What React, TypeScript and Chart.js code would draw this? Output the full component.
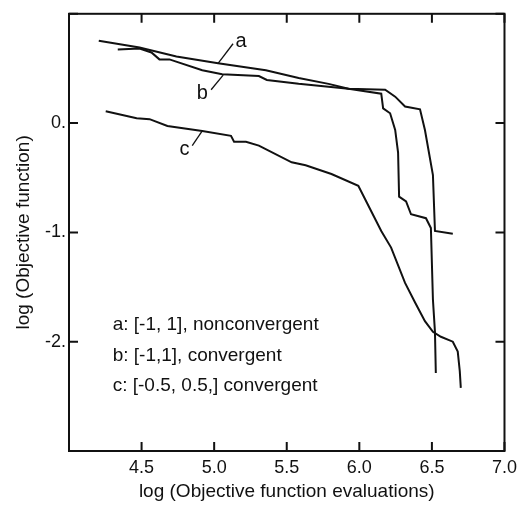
import React, { useEffect, useRef } from "react";
import { Chart, registerables } from "chart.js";

Chart.register(...registerables);

// Curve a: [-1, 1], nonconvergent
const aX = [4.205, 4.486, 4.740, 5.027, 5.356, 5.582, 5.788, 5.925, 6.178, 6.247, 6.315, 6.418, 6.452, 6.507, 6.521, 6.644];
const aY = [0.753, 0.691, 0.610, 0.547, 0.484, 0.413, 0.359, 0.314, 0.305, 0.242, 0.152, 0.126, -0.063, -0.475, -0.987, -1.013];

// Curve b: [-1,1], convergent
const bX = [4.336, 4.486, 4.568, 4.623, 4.692, 4.918, 5.055, 5.308, 5.363, 5.582, 5.788, 5.925, 6.151, 6.164, 6.212, 6.247, 6.267, 6.274, 6.322, 6.356, 6.459, 6.493, 6.507, 6.521, 6.527];
const bY = [0.673, 0.682, 0.646, 0.583, 0.583, 0.484, 0.448, 0.430, 0.395, 0.359, 0.332, 0.314, 0.269, 0.135, 0.090, -0.063, -0.269, -0.673, -0.717, -0.834, -0.870, -0.960, -1.614, -1.910, -2.287];

// Curve c: [-0.5, 0.5,] convergent
const cX = [4.253, 4.466, 4.555, 4.678, 4.918, 5.116, 5.137, 5.219, 5.308, 5.534, 5.630, 5.808, 5.993, 6.082, 6.151, 6.219, 6.315, 6.384, 6.452, 6.507, 6.562, 6.644, 6.678, 6.692, 6.699];
const cY = [0.108, 0.045, 0.036, -0.027, -0.072, -0.117, -0.170, -0.170, -0.206, -0.359, -0.386, -0.466, -0.574, -0.807, -0.987, -1.139, -1.462, -1.641, -1.812, -1.910, -1.955, -2.000, -2.090, -2.269, -2.422];

const legendLines = ["a: [-1, 1], nonconvergent", "b: [-1,1], convergent", "c: [-0.5, 0.5,] convergent"];
const curveLetters = ["a", "b", "c"];

const xTitle = "log (Objective function evaluations)";
const yTitle = "log (Objective function)";

const FONT = "'Liberation Sans', Arial, Helvetica, sans-serif";
const INK = "#111";

const toPts = (xs: number[], ys: number[]) => xs.map((x, i) => ({ x, y: ys[i] }));

const framePlugin = {
  id: "frameTicks",
  afterDraw(chart: any) {
    const { ctx, chartArea, scales } = chart;
    const { left, right, top, bottom } = chartArea;
    const xs = scales.x;
    const ys = scales.y;
    ctx.save();
    ctx.strokeStyle = INK;
    ctx.lineWidth = 2;
    ctx.strokeRect(left, top, right - left, bottom - top);
    const L = 9;
    ctx.beginPath();
    xs.ticks.forEach((t: any) => {
      const px = xs.getPixelForValue(t.value);
      ctx.moveTo(px, bottom);
      ctx.lineTo(px, bottom - L);
      ctx.moveTo(px, top);
      ctx.lineTo(px, top + L);
    });
    ys.ticks.forEach((t: any) => {
      const py = ys.getPixelForValue(t.value);
      ctx.moveTo(left, py);
      ctx.lineTo(left + L, py);
      ctx.moveTo(right, py);
      ctx.lineTo(right - L, py);
    });
    ctx.stroke();

    // leader lines for curve letters (data coordinates)
    const leaders = [
      { lx: 5.185, ly: 0.744, x1: 5.130, y1: 0.726, x2: 5.027, y2: 0.547 },
      { lx: 4.918, ly: 0.269, x1: 4.979, y1: 0.305, x2: 5.062, y2: 0.439 },
      { lx: 4.795, ly: -0.242, x1: 4.849, y1: -0.206, x2: 4.918, y2: -0.072 },
    ];
    ctx.lineWidth = 1.3;
    ctx.fillStyle = INK;
    ctx.font = `20px ${FONT}`;
    ctx.textAlign = "center";
    ctx.textBaseline = "middle";
    leaders.forEach((ld, i) => {
      ctx.beginPath();
      ctx.moveTo(xs.getPixelForValue(ld.x1), ys.getPixelForValue(ld.y1));
      ctx.lineTo(xs.getPixelForValue(ld.x2), ys.getPixelForValue(ld.y2));
      ctx.stroke();
      ctx.fillText(curveLetters[i], xs.getPixelForValue(ld.lx), ys.getPixelForValue(ld.ly));
    });

    // text legend
    ctx.font = `19px ${FONT}`;
    ctx.textAlign = "left";
    const legY = [-1.848, -2.126, -2.404];
    legendLines.forEach((s, i) => {
      ctx.fillText(s, xs.getPixelForValue(4.301), ys.getPixelForValue(legY[i]));
    });
    ctx.restore();
  },
};

export default function App() {
  const ref = useRef<HTMLCanvasElement | null>(null);
  useEffect(() => {
    if (!ref.current) return;
    const ds = (xs: number[], ys: number[], label: string) => ({
      label,
      data: toPts(xs, ys),
      borderColor: INK,
      borderWidth: 2,
      pointRadius: 0,
      tension: 0,
      fill: false,
    });
    const chart = new Chart(ref.current, {
      type: "line",
      data: {
        datasets: [ds(aX, aY, "a"), ds(bX, bY, "b"), ds(cX, cY, "c")],
      },
      options: {
        animation: false,
        responsive: false,
        layout: { padding: { left: 0, right: 16, top: 12, bottom: 0 } },
        plugins: { legend: { display: false }, tooltip: { enabled: false } },
        scales: {
          x: {
            type: "linear",
            min: 4,
            max: 7,
            ticks: {
              stepSize: 0.5,
              color: INK,
              font: { size: 18, family: FONT },
              padding: 6,
              maxRotation: 0,
              autoSkip: false,
              callback: (v: any) => (Number(v) === 4 ? "" : Number(v).toFixed(1)),
            },
            grid: { display: false, drawTicks: false },
            border: { display: false },
            title: {
              display: true,
              text: xTitle,
              color: INK,
              font: { size: 19, family: FONT },
              padding: { top: 0, bottom: 3 },
            },
            afterFit: (s: any) => {
              s.height = 55;
            },
          },
          y: {
            type: "linear",
            min: -3,
            max: 1,
            ticks: {
              stepSize: 1,
              color: INK,
              font: { size: 18, family: FONT },
              padding: 3,
              autoSkip: false,
              callback: (v: any) => {
                const n = Number(v);
                if (n === 1 || n === -3) return "";
                return `${n}.`;
              },
            },
            grid: { display: false, drawTicks: false },
            border: { display: false },
            title: {
              display: true,
              text: yTitle,
              color: INK,
              font: { size: 19, family: FONT },
              padding: { top: 12, bottom: 0 },
            },
            afterFit: (s: any) => {
              s.width = 69;
            },
          },
        },
      },
      plugins: [framePlugin],
    });
    return () => chart.destroy();
  }, []);
  return (
    <div style={{ position: "fixed", left: 0, top: 0, width: 523, height: 506, background: "#fff" }}>
      <canvas ref={ref} width={523} height={506} style={{ display: "block" }} />
    </div>
  );
}
